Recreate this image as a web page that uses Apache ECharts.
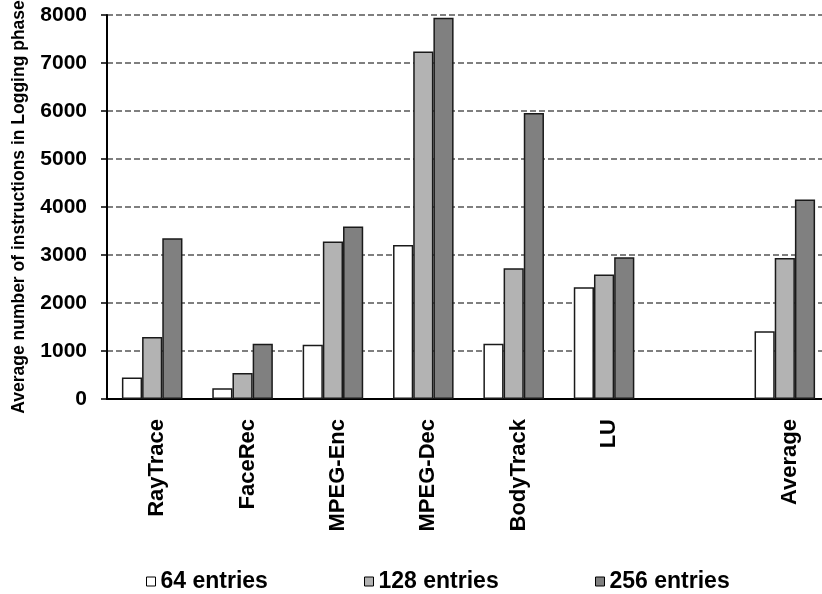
<!DOCTYPE html>
<html><head><meta charset="utf-8">
<script src="https://cdn.jsdelivr.net/npm/echarts@6/dist/echarts.min.js"></script>
<style>html,body{margin:0;padding:0;background:#fff}#c{width:822px;height:594px}</style>
</head><body><div id="c"></div>
<script>
const categories = ['RayTrace','FaceRec','MPEG-Enc','MPEG-Dec','BodyTrack','LU','','Average'];
const entries64  = [450, 225, 1130, 3210, 1150, 2330, null, 1410];
const entries128 = [1290, 540, 3280, 7240, 2725, 2595, null, 2940];
const entries256 = [3350, 1150, 3595, 7945, 5960, 2955, null, 4155];
const yTicks = [0,1000,2000,3000,4000,5000,6000,7000,8000];
const seriesNames = ['64 entries','128 entries','256 entries'];
const colors = ['#ffffff','#b3b3b3','#808080'];
const font = 'Liberation Sans, Arial, sans-serif';

const chart = echarts.init(document.getElementById('c'));
const mk = (name, data, color) => ({
  name, type:'bar', data, barGap:'0%', barCategoryGap:'33%',
  itemStyle:{color, borderColor:'#1a1a1a', borderWidth:1.5},
  emphasis:{disabled:true}
});
const leg = (i, left) => ({
  data:[seriesNames[i]], left, top:565, itemWidth:9, itemHeight:9, itemGap:4,
  icon:'rect', textStyle:{fontFamily:font, fontWeight:'bold', fontSize:23, color:'#000'},
  itemStyle:{borderColor:'#000', borderWidth:1}
});
chart.setOption({
  animation:false,
  textStyle:{fontFamily:font},
  grid:{left:107, top:15, width:723, height:384, containLabel:false, outerBoundsMode:'none'},
  legend:[leg(0,141), leg(1,359), leg(2,590)],
  xAxis:{
    type:'category', data:categories,
    axisLine:{lineStyle:{color:'#000', width:2}},
    axisTick:{show:false},
    axisLabel:{rotate:90, interval:0, margin:20, verticalAlign:'middle', color:'#000',
      formatter: v => v ? '{a|' + v + '}' : '',
      rich:{a:{fontFamily:font, fontWeight:'bold', fontSize:22, color:'#000', lineHeight:32, verticalAlign:'bottom'}}}
  },
  yAxis:{
    type:'value', min:yTicks[0], max:yTicks[yTicks.length-1], interval:1000,
    name:'Average number of instructions in Logging phase',
    nameLocation:'middle', nameGap:79, nameRotate:90,
    nameTextStyle:{fontFamily:font, fontWeight:'bold', fontSize:17.5, color:'#000'},
    axisLine:{show:true, lineStyle:{color:'#000', width:2}},
    axisTick:{show:true, length:6, lineStyle:{color:'#000', width:1.5}},
    axisLabel:{margin:20, fontFamily:font, fontWeight:'bold', fontSize:21, color:'#000', formatter:v => String(v)},
    splitLine:{lineStyle:{color:'#555', width:1.5, type:[6,3]}}
  },
  series:[mk(seriesNames[0], entries64, colors[0]), mk(seriesNames[1], entries128, colors[1]), mk(seriesNames[2], entries256, colors[2])]
});
</script></body></html>
